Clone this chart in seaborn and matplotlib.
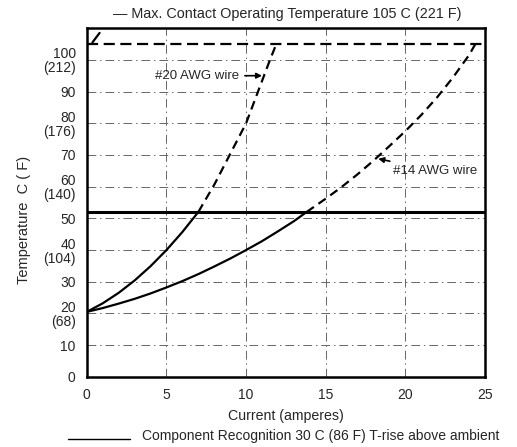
import matplotlib
matplotlib.use("Agg")
import matplotlib.pyplot as plt
import seaborn as sns
import pandas as pd

# ---- data ----
awg20_solid_x = [0, 1, 2, 3, 4, 5, 6, 7]
awg20_solid_y = [20.5, 23.2, 26.5, 30.4, 34.9, 40, 45.7, 52]
awg20_dash_x = [7, 8, 9, 10, 10.75, 11.5, 11.9]
awg20_dash_y = [52, 60.6, 70.3, 80, 90, 100, 105]

awg14_solid_x = [0, 1, 2, 3, 4, 5, 6, 7, 8, 9, 10, 11, 12, 13, 13.8]
awg14_solid_y = [20.5, 21.7, 23.1, 24.6, 26.3, 28.2, 30.2, 32.4, 34.8, 37.3,
                 40, 42.8, 45.9, 49.1, 52]
awg14_dash_x = [13.8, 15, 16, 17, 18, 19, 20, 21, 22, 23, 24, 24.4]
awg14_dash_y = [52, 56.2, 59.9, 63.9, 68.2, 72.8, 77.5, 82.6, 88.2, 94.5, 101.5, 105]

max_contact_temp = 105
component_limit = 52

x_ticks = [0, 5, 10, 15, 20, 25]
y_ticks = [0, 10, 20, 30, 40, 50, 60, 70, 80, 90, 100]
y_tick_labels = ["0", "10", "20\n(68)", "30", "40\n(104)", "50", "60\n(140)",
                 "70", "80\n(176)", "90", "100\n(212)"]

title_text = "\u2014 Max. Contact Operating Temperature 105 C (221 F)"
legend_text = "Component Recognition 30 C (86 F) T-rise above ambient"

sns.set_style("white")
plt.rcParams["font.family"] = ["Liberation Sans", "DejaVu Sans"]

fig = plt.figure(figsize=(5.17, 4.47), dpi=100)
ax = fig.add_axes([0.168, 0.157, 0.770, 0.780])

grid_kw = dict(color="#666666", lw=0.7, linestyle=(0, (9, 4, 1.5, 4)), zorder=1)
for xv in x_ticks[1:-1]:
    ax.axvline(xv, **grid_kw)
for yv in y_ticks[1:]:
    ax.axhline(yv, **grid_kw)

def seg(x, y, ls, lw):
    df = pd.DataFrame({"x": x, "y": y})
    sns.lineplot(data=df, x="x", y="y", ax=ax, color="black", lw=lw,
                 linestyle=ls, sort=False, estimator=None, zorder=3)

seg(awg20_solid_x, awg20_solid_y, "-", 1.6)
seg(awg20_dash_x, awg20_dash_y, (0, (4, 2.5)), 1.6)
seg(awg14_solid_x, awg14_solid_y, "-", 1.6)
seg(awg14_dash_x, awg14_dash_y, (0, (4, 2.5)), 1.6)

ax.axhline(max_contact_temp, color="black", lw=1.6, linestyle=(0, (5, 2.5)), zorder=3)
ax.axhline(component_limit, color="black", lw=2.2, zorder=3)
ax.plot([0.35, 0.8], [105.5, 108.5], color="black", lw=1.6, zorder=3)

ax.set_xlim(0, 25)
ax.set_ylim(0, 110)
ax.set_xticks(x_ticks)
ax.set_xticklabels([str(v) for v in x_ticks])
ax.set_yticks(y_ticks)
ax.set_yticklabels(y_tick_labels, linespacing=1.0)
ax.tick_params(length=0, labelsize=10, pad=8)
for s in ax.spines.values():
    s.set_visible(True)
    s.set_color("black")
    s.set_linewidth(1.8)

ax.set_xlabel("Current (amperes)", fontsize=10.2, labelpad=5)
ax.set_ylabel("Temperature  C ( F)", fontsize=10.5)
ax.yaxis.set_label_coords(-0.14, 0.45)

ax.annotate("#20 AWG wire", xy=(11.0, 95), xytext=(6.9, 95), fontsize=9.5,
            ha="center", va="center",
            arrowprops=dict(arrowstyle="-|>", color="black", lw=1.2,
                            shrinkA=2, shrinkB=0, mutation_scale=8))
ax.annotate("#14 AWG wire", xy=(18.3, 68.8), xytext=(19.2, 65), fontsize=9.5,
            ha="left", va="center",
            arrowprops=dict(arrowstyle="-|>", color="black", lw=1.2,
                            shrinkA=1, shrinkB=0, mutation_scale=8))

fig.text(287 / 517, 1 - 14 / 447, title_text, ha="center", va="center", fontsize=10.4)
fig.add_artist(plt.Line2D([68 / 517, 130 / 517], [1 - 439 / 447, 1 - 439 / 447],
                          color="black", lw=1.0))
fig.text(142 / 517, 1 - 436 / 447, legend_text, ha="left", va="center", fontsize=10)

fig.savefig("out.png", dpi=100)
